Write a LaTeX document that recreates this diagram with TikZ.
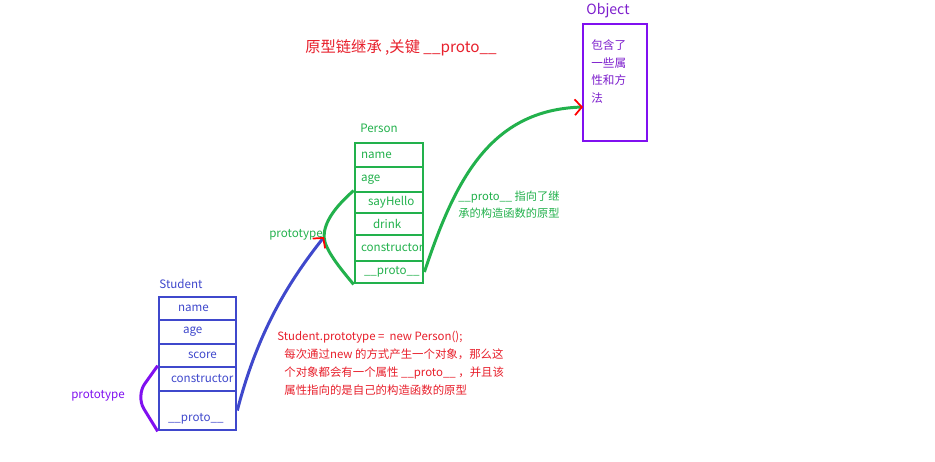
\documentclass[tikz,border=0pt]{standalone}
\usepackage{fontspec}
\setmainfont{Noto Sans CJK SC}
\usetikzlibrary{arrows.meta,calc}
\definecolor{pgreen}{RGB}{34,177,76}
\definecolor{sblue}{RGB}{63,72,204}
\definecolor{ovio}{RGB}{128,16,240}
\definecolor{opurp}{RGB}{125,30,205}
\definecolor{tred}{RGB}{232,32,44}

\begin{document}
\begin{tikzpicture}[
  x=0.02cm, y=-0.02cm,
  sz/.style={font=\fontsize{6.6}{8}\selectfont},
  t/.style={inner sep=0pt, sz},
  p/.style={draw=pgreen, line width=1.6pt, text=pgreen, minimum width=1.36cm, text width=1.36cm, inner sep=0pt, align=left, sz},
  s/.style={draw=sblue, line width=1.5pt, text=sblue, minimum width=1.54cm, text width=1.54cm, inner sep=0pt, align=left, sz},
  link/.style={line width=1.7pt},
  arr/.style={-{Straight Barb[color=red, length=4pt, width=9pt, line width=1pt]}}
]
  \fill[white] (0,0) rectangle (935,461);

  % title
  \node[t, text=tred, font=\fontsize{8.7}{11}\selectfont] (title) at (401,48) {原型链继承 ,关键 \_\_proto\_\_};

  % Object
  \node[t, text=opurp, font=\fontsize{8}{10}\selectfont] (olbl) at (608,11) {Object};
  \node[draw=ovio, line width=1.6pt, minimum width=1.28cm, minimum height=2.34cm, inner sep=0pt] (obj) at (615,82.5) {};
  \node[t, text=opurp, align=left, anchor=north west, font=\fontsize{6.6}{10.2}\selectfont] (objtxt) at (591,39) {包含了\\一些属\\性和方\\法};

  % Person
  \node[t, text=pgreen] (plbl) at (379,128) {Person};
  \node[p, minimum height=0.48cm] (pname) at (389,155) {\hspace*{0.12cm}name};
  \node[p, minimum height=0.5cm] (page) at (389,179.5) {\hspace*{0.12cm}age};
  \node[p, minimum height=0.42cm] (psay) at (389,202.5) {\hspace*{0.26cm}sayHello};
  \node[p, minimum height=0.44cm] (pdrink) at (389,224) {\hspace*{0.36cm}drink};
  \node[p, minimum height=0.52cm] (pcons) at (389,248) {\hspace*{0.12cm}\mbox{constructor}};
  \node[p, minimum height=0.44cm] (pproto) at (389,272) {\hspace*{0.18cm}\_\_proto\_\_};
  \node[t, text=pgreen, align=left, anchor=north west, font=\fontsize{6.4}{9.6}\selectfont] (pnote) at (458,191) {\_\_proto\_\_ 指向了继\\承的构造函数的原型};

  % Student
  \node[t, text=sblue] (slbl) at (181,284) {Student};
  \node[s, minimum height=0.46cm] (sname) at (197.5,308.5) {\hspace*{0.38cm}name};
  \node[s, minimum height=0.48cm] (sage) at (197.5,332) {\hspace*{0.48cm}age};
  \node[s, minimum height=0.46cm] (sscore) at (197.5,355.5) {\hspace*{0.58cm}score};
  \node[s, minimum height=0.48cm] (scons) at (197.5,379) {\hspace*{0.24cm}\mbox{constructor}};
  \node[s, minimum height=0.78cm, text height=0.5cm, text depth=0.06cm] (sproto) at (197.5,410.5) {\hspace*{0.18cm}\_\_proto\_\_};

  \node[t, text=tred, align=left, anchor=north west, font=\fontsize{6.5}{10.2}\selectfont] (snote) at (284,331) {\hspace*{-0.14cm}Student.prototype = \ new Person();\\每次通过new 的方式产生一个对象，那么这\\个对象都会有一个属性 \_\_proto\_\_ ，并且该\\属性指向的是自己的构造函数的原型};

  % prototype links
  \node[t, text=pgreen] (plink) at (296,235) {prototype};
  \node[t, text=ovio] (slink) at (98,396) {prototype};
  \coordinate (ptip) at (324,237);
  \coordinate (objin) at (583,107);

  \draw[pgreen, link] (psay.north west) .. controls (335,207) and (324,222) .. (ptip) .. controls (325,250) and (340,268) .. (pproto.south west);
  \draw[ovio, link, rounded corners=0.3cm] (scons.north west) -- (136,396) -- (sproto.south west);
  \draw[sblue, link, arr] (sproto.east) .. controls (258,330) and (290,280) .. (ptip);
  \draw[pgreen, link, arr] (pproto.east) .. controls (455,180) and (490,110) .. (objin);
\end{tikzpicture}
\end{document}
